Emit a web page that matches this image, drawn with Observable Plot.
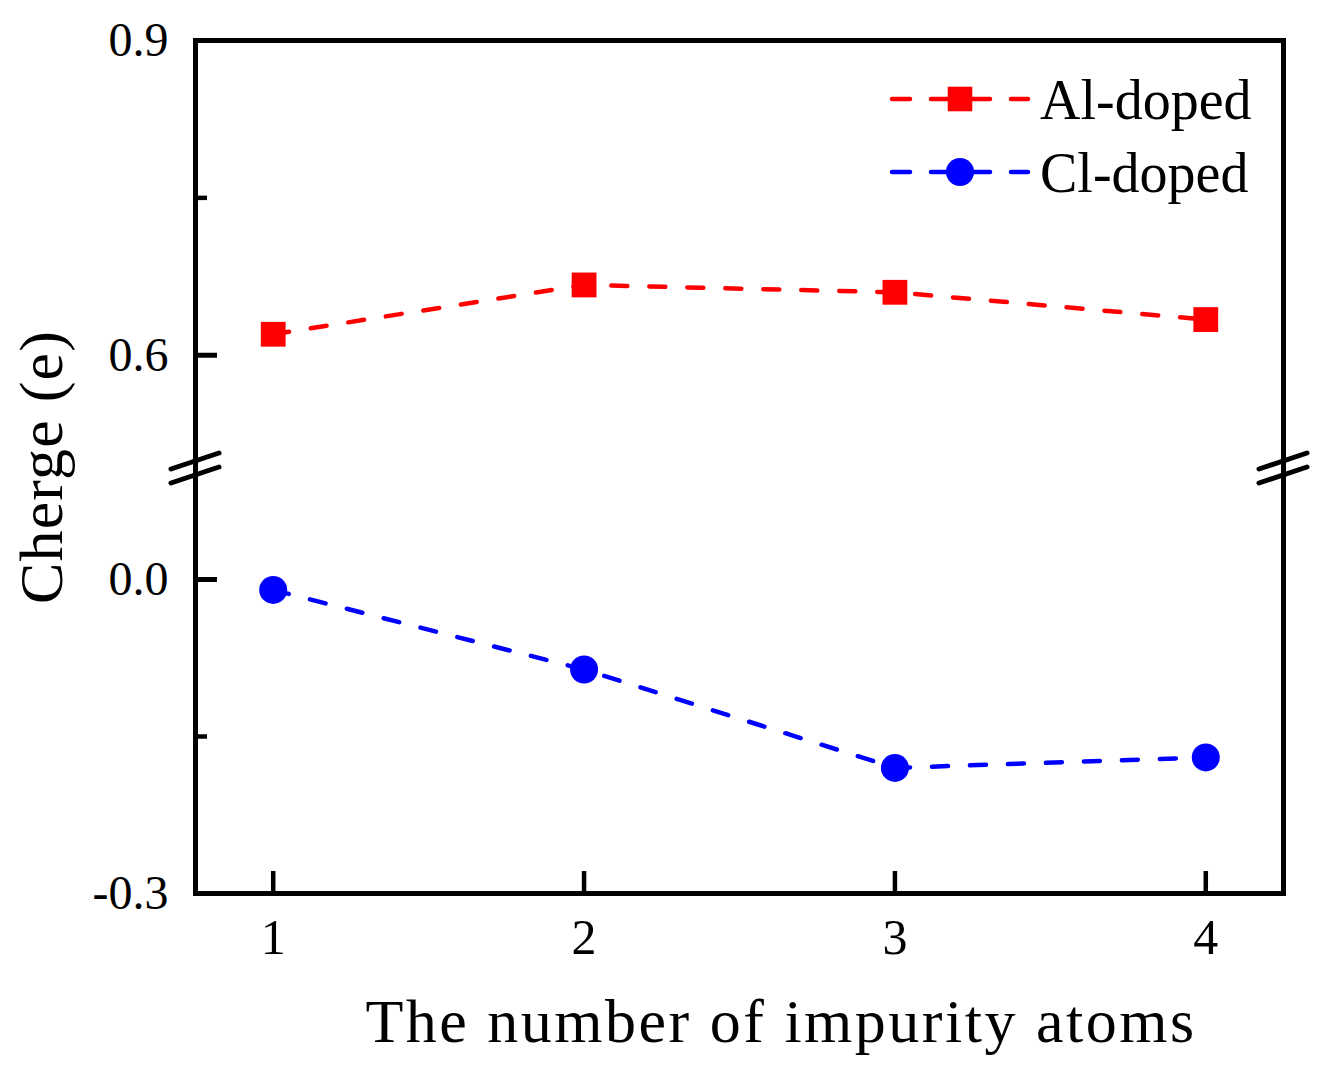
<!DOCTYPE html>
<html><head><meta charset="utf-8">
<script src="https://cdn.jsdelivr.net/npm/d3@7"></script>
<script src="https://cdn.jsdelivr.net/npm/@observablehq/plot@0.6"></script>
<style>
html,body{margin:0;padding:0;background:#fff;}
#chart{position:relative;width:1325px;height:1081px;}
</style></head><body><div id="chart"></div>
<script>
// ---- data ----
const impurityCounts = [1, 2, 3, 4];
const alDoped = [0.620, 0.667, 0.660, 0.634];
const clDoped = [-0.010, -0.086, -0.180, -0.170];
const seriesNames = ["Al-doped", "Cl-doped"];
const seriesColors = ["#ff0000", "#0000ff"];
const seriesSymbols = ["square", "circle"];
const yLabelTicks = [0.9, 0.6, 0.0, -0.3];
const yMinorTicks = [0.75, -0.15];
const xTicks = [1, 2, 3, 4];
const yBreak = [0.107, 0.493];   // value range hidden by the axis break
const xTitle = "The number of impurity atoms";
const yTitle = "Cherge (e)";

const rows = [];
impurityCounts.forEach((n, i) => {
  rows.push({n, v: alDoped[i], series: seriesNames[0]});
});
impurityCounts.forEach((n, i) => {
  rows.push({n, v: clDoped[i], series: seriesNames[1]});
});

// ---- layout ----
const W = 1325, H = 1081, mL = 195, mR = 42, mT = 40, mB = 188;
const fw = W - mL - mR, fh = H - mT - mB;
const yBreakPx = 467;
const font = "'Liberation Serif', 'Times New Roman', serif";

const chart = Plot.plot({
  width: W, height: H,
  marginLeft: mL, marginRight: mR, marginTop: mT, marginBottom: mB,
  style: {fontFamily: font, background: "white", color: "black", overflow: "visible"},
  x: {domain: [0.75, 4.25], label: null},
  y: {type: "linear", domain: [-0.3, yBreak[0], yBreak[1], 0.9], range: [H - mB, yBreakPx, yBreakPx, mT], label: null},
  color: {domain: seriesNames, range: seriesColors},
  symbol: {domain: seriesNames, range: seriesSymbols},
  marks: [
    Plot.line(rows, {x: "n", y: "v", z: "series", stroke: "series", strokeWidth: 4.5,
      strokeDasharray: "16,22", strokeLinecap: "round"}),
    Plot.dot(rows, {x: "n", y: "v", symbol: "series", fill: "series", stroke: null, r: 14}),
    Plot.tickY(yLabelTicks, {y: d => d, insetRight: fw - 22, strokeWidth: 5, stroke: "black"}),
    Plot.tickY(yMinorTicks, {y: d => d, insetRight: fw - 12, strokeWidth: 4.5, stroke: "black"}),
    Plot.tickX(xTicks, {x: d => d, insetTop: fh - 22, strokeWidth: 4.5, stroke: "black"}),
    Plot.axisY(yLabelTicks, {tickSize: 0, tickPadding: 27, tickFormat: d => d.toFixed(1), fontSize: 48, label: null}),
    Plot.axisX(xTicks, {tickSize: 0, tickPadding: 25, tickFormat: d => String(d), fontSize: 50, label: null}),
    Plot.frame({stroke: "black", strokeWidth: 5})
  ]
});
document.getElementById("chart").appendChild(chart);

// ---- decorations: axis break, titles, legend ----
const svg = d3.select(chart);
[mL, W - mR].forEach(cx => {
  [-7, 7].forEach(off => {
    svg.append("line")
      .attr("x1", cx - 24).attr("y1", yBreakPx + 1 + off + 8)
      .attr("x2", cx + 24).attr("y2", yBreakPx + 1 + off - 8)
      .attr("stroke", "black").attr("stroke-width", 5).attr("stroke-linecap", "round");
  });
});

svg.append("text")
  .attr("x", 781).attr("y", 1042)
  .attr("text-anchor", "middle")
  .attr("font-family", font).attr("font-size", 62)
  .attr("letter-spacing", 2.5)
  .attr("fill", "black")
  .text(xTitle);

svg.append("text")
  .attr("transform", "translate(62,467) rotate(-90)")
  .attr("text-anchor", "middle")
  .attr("font-family", font).attr("font-size", 62)
  .attr("letter-spacing", 1.2)
  .attr("fill", "black")
  .text(yTitle);

const legendRows = [{y: 99, base: 119}, {y: 172, base: 192}];
seriesNames.forEach((name, i) => {
  const g = svg.append("g");
  const cy = legendRows[i].y;
  [[892, 910], [931, 990], [1011, 1028]].forEach(([a, b]) => {
    g.append("line").attr("x1", a).attr("x2", b).attr("y1", cy).attr("y2", cy)
      .attr("stroke", seriesColors[i]).attr("stroke-width", 4.5).attr("stroke-linecap", "round");
  });
  if (seriesSymbols[i] === "square") {
    g.append("rect").attr("x", 960 - 12.3).attr("y", cy - 12.3).attr("width", 24.6).attr("height", 24.6)
      .attr("fill", seriesColors[i]);
  } else {
    g.append("circle").attr("cx", 960).attr("cy", cy).attr("r", 14).attr("fill", seriesColors[i]);
  }
  g.append("text").attr("x", 1040).attr("y", legendRows[i].base)
    .attr("text-anchor", "start")
    .attr("font-family", font).attr("font-size", 56).attr("fill", "black")
    .text(name);
});
</script>
</body></html>
